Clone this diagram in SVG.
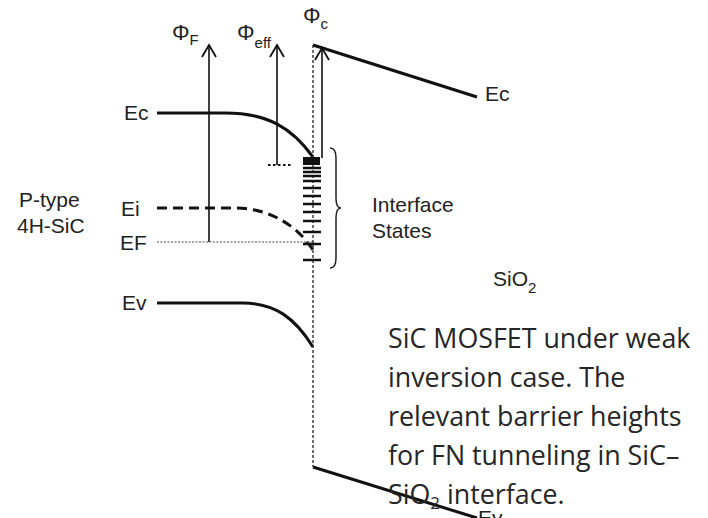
<svg xmlns="http://www.w3.org/2000/svg" width="708" height="518" viewBox="0 0 708 518">
<style>
.lbl{font-family:"Liberation Sans",Arial,sans-serif;font-size:21px;fill:#222}
.phi{font-size:22px}
.sub{font-size:15px}
.cap{font-family:"Open Sans","Liberation Sans",sans-serif;font-size:26.8px;fill:#262626}
.band{fill:none;stroke:#111;stroke-width:3}
.arr{fill:none;stroke:#111;stroke-width:1.6}
.tick{stroke:#111;stroke-width:2.6}
</style>
<defs>
<marker id="ah" markerWidth="16" markerHeight="16" refX="14" refY="8" orient="auto" markerUnits="userSpaceOnUse" viewBox="0 0 16 16">
<path d="M2,1 L14,8 L2,15" fill="none" stroke="#111" stroke-width="1.8"/>
</marker>
</defs>
<rect width="708" height="518" fill="#fff"/>
<g id="sic-bands">
<path class="band" d="M157,113 L225,113 C268,113 292,128 313,157"/>
<path class="band" d="M157,208 L235,208 C265,208 295,222 313,250" stroke-dasharray="10,6"/>
<path d="M157,242 L313,242" fill="none" stroke="#888" stroke-width="1.4" stroke-dasharray="2,1.5"/>
<path class="band" d="M157,303 L243,303 C275,303 295,318 313,347"/>
</g>
<g id="oxide-bands">
<path class="band" d="M313,45 L477,97"/>
<path class="band" d="M313,467 L477,518"/>
</g>
<g id="connectors">
<path d="M313,45 L313,467" fill="none" stroke="#333" stroke-width="1.4" stroke-dasharray="3,2"/>
<path class="arr" d="M209,242 L209,45" marker-end="url(#ah)"/>
<path class="arr" d="M277,165 L277,45" marker-end="url(#ah)"/>
<path d="M268,165 L292,165" fill="none" stroke="#111" stroke-width="2.2" stroke-dasharray="2.5,2.5"/>
<path class="arr" d="M322,158 L322,48" marker-end="url(#ah)"/>
<path d="M330,148 Q336,148 336,158 L336,198 Q336,208 341,208 Q336,208 336,218 L336,258 Q336,268 330,268" fill="none" stroke="#222" stroke-width="1.5"/>
</g>
<g id="interface-states">
<rect x="303" y="157" width="17" height="8" fill="#111"/>
<path class="tick" d="M303,168h18M303,172h18M303,176h18M303,181h18M303,188h18M303,196h18M303,204h18M303,212h18M303,221h18M303,232h18M303,244h18M303,260h18"/>
</g>
<g id="labels">
<text class="lbl phi" x="172" y="40">Φ<tspan class="sub" dy="5">F</tspan></text>
<text class="lbl phi" x="237" y="40">Φ<tspan class="sub" dy="8">eff</tspan></text>
<text class="lbl phi" x="303" y="23">Φ<tspan class="sub" dy="6">c</tspan></text>
<text class="lbl" x="124" y="120">Ec</text>
<text class="lbl" x="121" y="216">Ei</text>
<text class="lbl" x="120" y="250">EF</text>
<text class="lbl" x="122" y="310">Ev</text>
<text class="lbl" x="19" y="207">P-type</text>
<text class="lbl" x="17" y="233">4H-SiC</text>
<text class="lbl" x="372" y="212">Interface</text>
<text class="lbl" x="372" y="238">States</text>
<text class="lbl" x="485" y="101">Ec</text>
<text class="lbl" x="493" y="286">SiO<tspan class="sub" dy="7">2</tspan></text>
<text class="lbl" x="478" y="525">Ev</text>
</g>
<g id="caption">
<text class="cap" x="388" y="348">SiC MOSFET under weak</text>
<text class="cap" x="388" y="387">inversion case. The</text>
<text class="cap" x="388" y="426">relevant barrier heights</text>
<text class="cap" x="388" y="465">for FN tunneling in SiC–</text>
<text class="cap" x="388" y="504">SiO<tspan font-size="17" dy="5">2</tspan><tspan dy="-5"> interface.</tspan></text>
</g>
</svg>
